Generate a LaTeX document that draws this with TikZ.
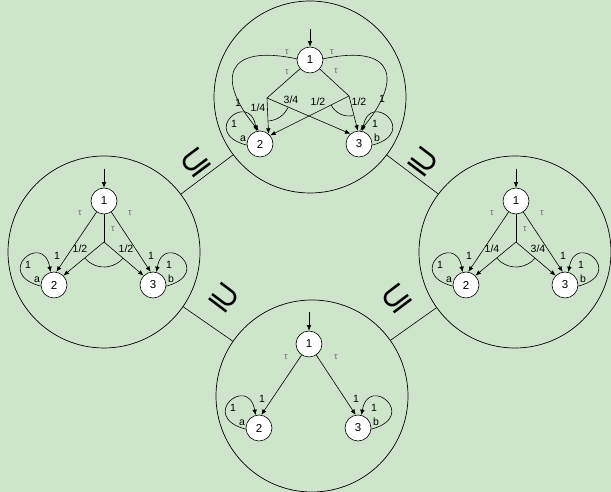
\documentclass[tikz,border=0pt]{standalone}
\usepackage{fontspec}
\setmainfont{Liberation Sans}
\newfontfamily\relfont{DejaVu Sans}
\usetikzlibrary{arrows.meta}

\definecolor{paper}{RGB}{206,229,204}
\definecolor{taugray}{RGB}{105,105,105}

\tikzset{
  world/.style={circle, draw, line width=0.7pt, minimum size=192pt, inner sep=0pt},
  state/.style={circle, draw, fill=white, line width=0.6pt, minimum size=26pt,
    inner sep=0pt, font=\fontsize{11.5}{12}\selectfont},
  lbl/.style={inner sep=0.5pt, font=\fontsize{10.5}{12}\selectfont},
  tau/.style={inner sep=0.5pt, text=taugray, font=\fontsize{9}{10}\selectfont},
  arr/.style={-{Latex[length=5.5pt,width=4.5pt]}},
  incl/.style={inner sep=0pt, font=\relfont\fontsize{36}{36}\selectfont},
}

\begin{document}
\begin{tikzpicture}[x=1pt, y=1pt, line width=0.6pt, line join=round]

\fill[paper] (0,0) rectangle (611,492);
\useasboundingbox (0,0) rectangle (611,492);

% Mondi
\node[world] (wtop) at (310,395) {};
\node[world] (wleft) at (104,240) {};
\node[world] (wright) at (515,240) {};
\node[world] (wbot) at (312,96) {};

% Inclusioni
\draw (wleft) -- (wtop);
\draw (wtop) -- (wright);
\draw (wleft) -- (wbot);
\draw (wbot) -- (wright);
\node[incl, rotate=37] (i1) at (196,329) {⊆};
\node[incl, rotate=-37] (i2) at (423,330) {⊇};
\node[incl, rotate=-37] (i3) at (224,194) {⊇};
\node[incl, rotate=37] (i4) at (397,193) {⊆};

% Automa in alto: due distribuzioni
\begin{scope}[shift={(310,432)}]
  \node[state] (T1) at (0,0) {1};
  \node[state] (T2) at (-50,-84) {2};
  \node[state] (T3) at (49,-84) {3};
  \coordinate (T0) at (0,31);
  \coordinate (TL) at (-43,-38);
  \coordinate (TR) at (39,-36);
  \draw[arr] (T0) -- (T1);
  \draw (T1) -- (TL);
  \draw (T1) -- (TR);
  \draw[arr] (TL) -- (T2.50);
  \draw[arr] (TL) -- (T3.130);
  \draw[arr] (TR) -- (T2.40);
  \draw[arr] (TR) -- (T3.95);
  \draw ([shift={(-85:23pt)}]TL) arc[start angle=-85, end angle=-25, radius=23pt];
  \draw ([shift={(207:20pt)}]TR) arc[start angle=207, end angle=282, radius=20pt];
  \draw[arr] (T1.175) to[out=168, in=130, out distance=75pt, in distance=65pt] (T2.95);
  \draw[arr] (T1.5) to[out=12, in=50, out distance=75pt, in distance=65pt] (T3.85);
  \draw[arr] (T2.185) to[out=165, in=100, out distance=50pt, in distance=42pt] (T2.105);
  \draw[arr] (T3.355) to[out=15, in=80, out distance=50pt, in distance=42pt] (T3.75);
  % Etichette
  \node[tau] (T-t1) at (-23,-12) {τ};
  \node[tau] (T-t2) at (26,-11) {τ};
  \node[tau] (T-t3) at (-23,8) {τ};
  \node[tau] (T-t4) at (22,8) {τ};
  \node[lbl] (T-p1) at (-52,-48) {1/4};
  \node[lbl] (T-p2) at (-19,-40) {3/4};
  \node[lbl] (T-p3) at (8,-42) {1/2};
  \node[lbl] (T-p4) at (49,-42) {1/2};
  \node[lbl] (T-o1) at (-72,-43) {1};
  \node[lbl] (T-o2) at (72,-39) {1};
  \node[lbl] (T-l2) at (-76,-64) {1};
  \node[lbl] (T-a) at (-67,-79) {a};
  \node[lbl] (T-l3) at (65,-64) {1};
  \node[lbl] (T-b) at (67,-78) {b};
\end{scope}

% Automi a sinistra e a destra: una distribuzione
\foreach \nm/\cx/\pl/\pr in {L/104/{1/2}/{1/2}, R/516/{1/4}/{3/4}}{
\begin{scope}[shift={(\cx,291)}]
  \node[state] (\nm1) at (0,0) {1};
  \node[state] (\nm2) at (-50,-84) {2};
  \node[state] (\nm3) at (49,-84) {3};
  \coordinate (\nm0) at (0,32);
  \coordinate (\nm S) at (0,-41);
  \draw[arr] (\nm0) -- (\nm1);
  \draw[arr] (\nm1) -- (\nm2.80);
  \draw[arr] (\nm1) -- (\nm3.100);
  \draw (\nm1) -- (\nm S);
  \draw[arr] (\nm S) -- (\nm2.45);
  \draw[arr] (\nm S) -- (\nm3.135);
  \draw ([shift={(220:25pt)}]\nm S) arc[start angle=220, end angle=320, radius=25pt];
  \draw[arr] (\nm2.185) to[out=165, in=100, out distance=50pt, in distance=42pt] (\nm2.105);
  \draw[arr] (\nm3.355) to[out=15, in=80, out distance=50pt, in distance=42pt] (\nm3.75);
  % Etichette
  \node[tau] (\nm-t1) at (-24,-12) {τ};
  \node[tau] (\nm-t2) at (26,-12) {τ};
  \node[tau] (\nm-t3) at (9,-28) {τ};
  \node[lbl] (\nm-d2) at (-47,-55) {1};
  \node[lbl] (\nm-d3) at (47,-55) {1};
  \node[lbl] (\nm-p1) at (-24,-48) {\pl};
  \node[lbl] (\nm-p2) at (22,-48) {\pr};
  \node[lbl] (\nm-l2) at (-76,-64) {1};
  \node[lbl] (\nm-a) at (-67,-79) {a};
  \node[lbl] (\nm-l3) at (65,-64) {1};
  \node[lbl] (\nm-b) at (67,-78) {b};
\end{scope}
}

% Automa in basso: nessuna scelta
\begin{scope}[shift={(309,148)}]
  \node[state] (B1) at (0,0) {1};
  \node[state] (B2) at (-50,-84) {2};
  \node[state] (B3) at (49,-84) {3};
  \coordinate (B0) at (0,32);
  \draw[arr] (B0) -- (B1);
  \draw[arr] (B1) -- (B2.80);
  \draw[arr] (B1) -- (B3.100);
  \draw[arr] (B2.185) to[out=165, in=100, out distance=50pt, in distance=42pt] (B2.105);
  \draw[arr] (B3.355) to[out=15, in=80, out distance=50pt, in distance=42pt] (B3.75);
  % Etichette
  \node[tau] (B-t1) at (-23,-13) {τ};
  \node[tau] (B-t2) at (27,-13) {τ};
  \node[lbl] (B-d2) at (-47,-55) {1};
  \node[lbl] (B-d3) at (47,-55) {1};
  \node[lbl] (B-l2) at (-76,-64) {1};
  \node[lbl] (B-a) at (-67,-79) {a};
  \node[lbl] (B-l3) at (65,-64) {1};
  \node[lbl] (B-b) at (67,-78) {b};
\end{scope}

\end{tikzpicture}
\end{document}
